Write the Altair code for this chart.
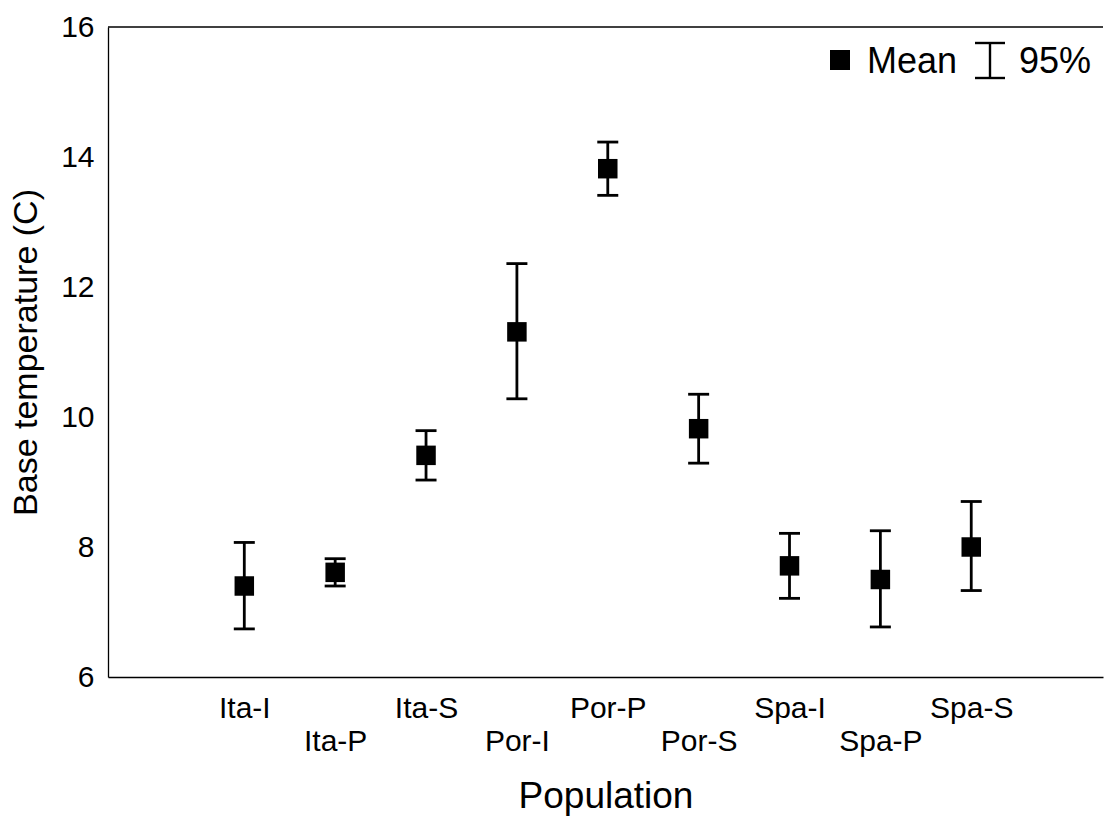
import altair as alt
import pandas as pd

populations = ["Ita-I", "Ita-P", "Ita-S", "Por-I", "Por-P", "Por-S", "Spa-I", "Spa-P", "Spa-S"]
means = [7.40, 7.61, 9.41, 11.31, 13.82, 9.82, 7.71, 7.50, 8.00]
lower = [6.74, 7.40, 9.03, 10.28, 13.41, 9.29, 7.21, 6.77, 7.33]
upper = [8.07, 7.82, 9.79, 12.36, 14.23, 10.35, 8.21, 8.25, 8.70]
legend_labels = ["Mean", "95%"]

FONT = "Liberation Sans"

df = pd.DataFrame({
    "idx": list(range(len(populations))),
    "pop": populations,
    "mean": means,
    "lo": lower,
    "hi": upper,
})

names_js = "[" + ",".join("'%s'" % p for p in populations) + "]"
label_expr = f"datum.value % 2 == 0 ? {names_js}[datum.value] : ['', {names_js}[datum.value]]"

x = alt.X("idx:Q",
          scale=alt.Scale(domain=[-1.5, 9.45], nice=False, zero=False),
          axis=alt.Axis(values=list(range(9)), labelExpr=label_expr, ticks=False, grid=False,
                        labelFont=FONT, labelFontSize=30, labelColor="black", labelPadding=16,
                        labelLineHeight=33, labelOverlap=False, labelBaseline="top",
                        domainColor="black", domainWidth=1.3,
                        title="Population", titleFont=FONT, titleFontSize=37,
                        titleFontWeight="normal", titleColor="black", titlePadding=22))

ysc = alt.Scale(domain=[6, 16], nice=False, zero=False)

base = alt.Chart(df)

rules = base.mark_rule(color="black", strokeWidth=2.8).encode(
    x=x,
    y=alt.Y("lo:Q", scale=ysc,
            axis=alt.Axis(values=[6, 8, 10, 12, 14, 16], format="d", ticks=False, grid=False,
                          labelFont=FONT, labelFontSize=30, labelColor="black", labelPadding=14,
                          domainColor="black", domainWidth=1.3,
                          title="Base temperature (C)", titleFont=FONT, titleFontSize=34,
                          titleFontWeight="normal", titleColor="black", titlePadding=17)),
    y2="hi:Q",
)

cap_lo = base.mark_tick(color="black", orient="horizontal", size=21, thickness=2.8, opacity=1).encode(
    x="idx:Q", y="lo:Q")
cap_hi = base.mark_tick(color="black", orient="horizontal", size=21, thickness=2.8, opacity=1).encode(
    x="idx:Q", y="hi:Q")

points = base.mark_square(filled=True, color="black", opacity=1, size=380).encode(
    x="idx:Q", y="mean:Q")

top_df = pd.DataFrame({"v": [16]})
top_rule = alt.Chart(top_df).mark_rule(color="black", strokeWidth=1.3).encode(y="v:Q")

# legend (drawn as decoration in pixel space)
leg_df = pd.DataFrame({"label": legend_labels})
leg_square = alt.Chart(leg_df).transform_filter("datum.label == 'Mean'").mark_square(
    filled=True, color="black", opacity=1, size=400).encode(x=alt.value(732), y=alt.value(33))
leg_mean = alt.Chart(leg_df).transform_filter("datum.label == 'Mean'").mark_text(
    font=FONT, fontSize=36, align="left", baseline="alphabetic", color="black").encode(
    x=alt.value(759), y=alt.value(46), text="label:N")
leg_ci = alt.Chart(leg_df).transform_filter("datum.label == '95%'").mark_text(
    font=FONT, fontSize=36, align="left", baseline="alphabetic", color="black").encode(
    x=alt.value(911), y=alt.value(46), text="label:N")
leg_v = alt.Chart(leg_df).transform_filter("datum.label == '95%'").mark_rule(
    color="black", strokeWidth=2.4).encode(x=alt.value(882), y=alt.value(16), y2=alt.value(51))
leg_t = alt.Chart(leg_df).transform_filter("datum.label == '95%'").mark_rule(
    color="black", strokeWidth=2.4).encode(x=alt.value(867), x2=alt.value(897), y=alt.value(16))
leg_b = alt.Chart(leg_df).transform_filter("datum.label == '95%'").mark_rule(
    color="black", strokeWidth=2.4).encode(x=alt.value(867), x2=alt.value(897), y=alt.value(51))

chart = alt.layer(rules, cap_lo, cap_hi, points, top_rule,
                  leg_square, leg_mean, leg_ci, leg_v, leg_t, leg_b).properties(
    width=995, height=650,
    autosize=alt.AutoSizeParams(type="none"),
    padding={"left": 108, "top": 27, "right": 1, "bottom": 143},
    background="white",
).configure_view(stroke=None)

chart.save("out.html", embed_options={"renderer": "svg", "actions": False})
